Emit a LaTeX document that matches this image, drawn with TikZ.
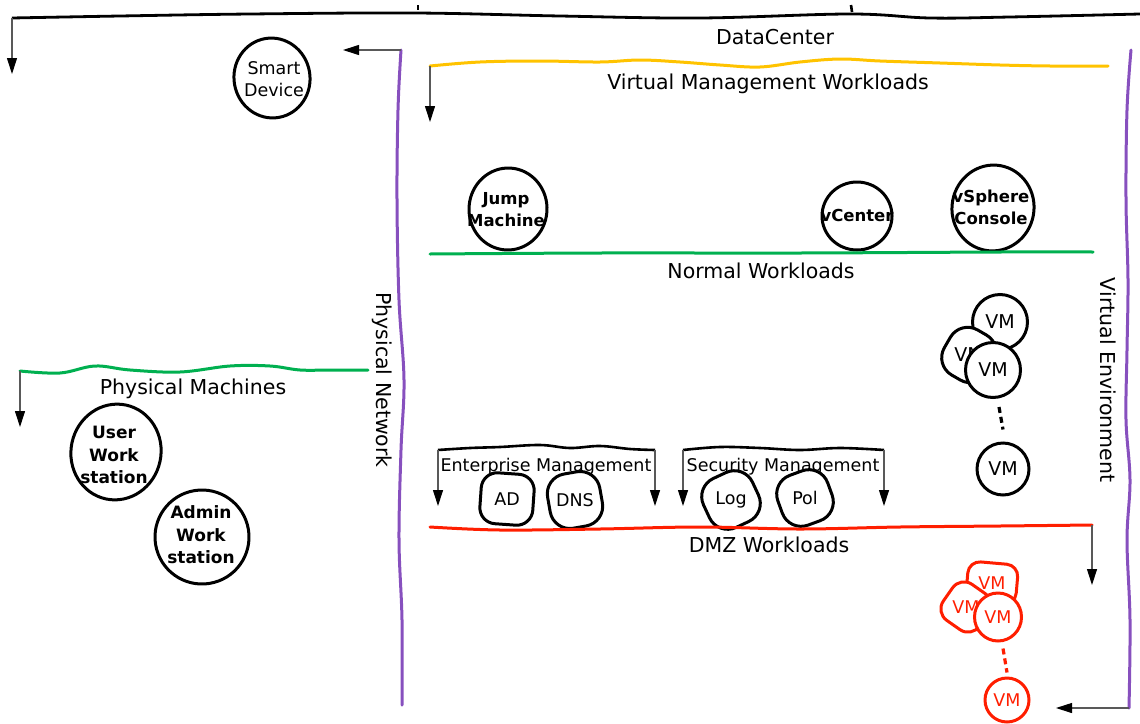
\documentclass[tikz,border=0pt]{standalone}
\usepackage{fontspec}
\setmainfont{DejaVu Sans}
\usetikzlibrary{arrows.meta,shapes.geometric}
\definecolor{dcpurple}{RGB}{135,80,190}
\definecolor{dcyellow}{RGB}{255,195,0}
\definecolor{dcgreen}{RGB}{0,176,80}
\definecolor{dcred}{RGB}{255,30,0}
\tikzset{
  sketch/.style={draw, fill=white, line width=3pt, ellipse, inner sep=0pt, align=center},
  blob/.style={draw, fill=white, line width=3pt, rectangle, rounded corners=16pt, inner sep=0pt, align=center},
  lbl/.style={font=\fontsize{20.5}{24}\selectfont, inner sep=0pt},
  sublbl/.style={font=\fontsize{17.5}{21}\selectfont, inner sep=0pt},
  ntxt/.style={font=\fontsize{17.5}{22}\selectfont, align=center, inner sep=0pt},
  btxt/.style={font=\bfseries\fontsize{16.5}{22}\selectfont, align=center, inner sep=0pt},
  vmtxt/.style={font=\fontsize{19}{22}\selectfont},
  flow/.style={draw=black!65, line width=1.1pt, -{Triangle[length=16pt,width=10pt,color=black,fill=black]}},
  wave/.style={line width=3pt, line cap=round},
}
\begin{document}
\begin{tikzpicture}[x=1pt,y=-1pt]
\useasboundingbox (0,0) rectangle (1140,723);

% ---------- top black line (DataCenter)
\coordinate (top0) at (12,18);
\draw[line width=2.8pt] plot[smooth, tension=0.6] coordinates {(12,18) (120,16) (250,14) (415,13) (560,16) (700,18) (850,14) (930,18) (1010,17) (1140,14)};
\draw[line width=2.6pt] (418,5) -- (418,10);
\draw[line width=2.6pt] (851,5) -- (852,12);
\coordinate (top0e) at (12,74);
\draw[flow] (top0) -- (top0e);
\node[lbl] (dc) at (775,37) {DataCenter};

% ---------- physical network (left purple)
\coordinate (pn0) at (401,50);
\draw[wave, dcpurple] plot[smooth, tension=0.6] coordinates {(401,50) (398,110) (397,200) (399,300) (404,380) (401,450) (399,540) (402,620) (402,705)};
\coordinate (pnarr) at (343,50);
\draw[flow] (pn0) -- (pnarr);
\node[lbl, rotate=-90] (pnl) at (382,380) {Physical Network};

% ---------- virtual environment (right purple)
\coordinate (ve1) at (1129,708);
\draw[wave, dcpurple] plot[smooth, tension=0.6] coordinates {(1131,50) (1127,110) (1126,200) (1128,280) (1127,350) (1126,420) (1130,480) (1127,540) (1130,620) (1129,708)};
\coordinate (vearr) at (1056,708);
\draw[flow] (ve1) -- (vearr);
\node[lbl, rotate=-90] (vel) at (1108,380) {Virtual Environment};

% ---------- virtual management workloads (yellow)
\coordinate (vm0) at (430,66);
\draw[wave, dcyellow] plot[smooth, tension=0.6] coordinates {(430,66) (480,62) (540,61) (600,62) (640,60) (680,62) (720,65) (760,67) (800,62) (840,59) (880,61) (940,63) (1000,65) (1050,66) (1108,66)};
\coordinate (vm0e) at (430,122);
\draw[flow] (vm0) -- (vm0e);
\node[lbl] (vmwl) at (768,84) {Virtual Management Workloads};

\node[sketch, minimum width=78, minimum height=82, rotate=-4] (jump) at (508,209) {};
\node[btxt] (jumpt) at (506,210) {Jump\\Machine};
\node[sketch, minimum width=70, minimum height=68] (vcenter) at (857,216) {};
\node[btxt] (vcentert) at (857,215) {vCenter};
\node[sketch, minimum width=82, minimum height=86, rotate=-10] (vsphere) at (993,208) {};
\node[btxt] (vspheret) at (991,207) {vSphere\\Console};

% ---------- normal workloads (green)
\draw[wave, dcgreen] plot[smooth, tension=0.6] coordinates {(430,254) (600,253) (800,253) (1000,252) (1093,252)};
\node[lbl] (nwl) at (761,271) {Normal Workloads};

\node[sketch, vmtxt, minimum width=55, minimum height=55] (vma) at (1000,322) {VM};
\node[blob, vmtxt, rounded corners=20pt, minimum width=50, minimum height=52, rotate=-30] (vmb) at (969,355) {\rotatebox{30}{VM}};
\node[sketch, vmtxt, minimum width=55, minimum height=55] (vmc) at (993,370) {VM};
\node[sketch, vmtxt, minimum width=52, minimum height=52] (vmd) at (1003,469) {VM};
\draw[line width=3.2pt, dash pattern=on 6pt off 4pt] ([xshift=6pt,yshift=-8pt]vmc.south) -- ([yshift=12pt]vmd.north);

% ---------- enterprise / security management
\coordinate (em0) at (438,450);
\coordinate (em1) at (655,450);
\draw[line width=2.6pt] plot[smooth, tension=0.6] coordinates {(438,450) (470,448) (500,447) (540,445) (570,448) (600,446) (630,449) (655,450)};
\coordinate (em0e) at (438,506);
\coordinate (em1e) at (655,506);
\draw[flow] (em0) -- (em0e);
\draw[flow] (em1) -- (em1e);
\node[sublbl] (eml) at (546,467) {Enterprise Management};

\coordinate (sm0) at (683,450);
\coordinate (sm1) at (884,450);
\draw[line width=2.6pt] plot[smooth, tension=0.6] coordinates {(683,450) (720,447) (760,448) (800,450) (840,448) (884,450)};
\coordinate (sm0e) at (683,506);
\coordinate (sm1e) at (884,506);
\draw[flow] (sm0) -- (sm0e);
\draw[flow] (sm1) -- (sm1e);
\node[sublbl] (sml) at (783,467) {Security Management};

\node[blob, ntxt, minimum width=53, minimum height=51, rotate=-4] (ad) at (507,499) {\rotatebox{4}{AD}};
\node[blob, ntxt, rounded corners=20pt, minimum width=53, minimum height=55, rotate=10] (dns) at (575,500) {\rotatebox{-10}{DNS}};
\node[blob, ntxt, rounded corners=20pt, minimum width=54, minimum height=54, rotate=25] (log) at (731,500) {\rotatebox{-25}{Log}};
\node[blob, ntxt, rounded corners=20pt, minimum width=53, minimum height=53, rotate=20] (pol) at (805,498) {\rotatebox{-20}{Pol}};

% ---------- DMZ workloads (red)
\coordinate (dmz1) at (1092,525);
\draw[wave, dcred] plot[smooth, tension=0.6] coordinates {(430,527) (500,530) (600,529) (700,527) (800,529) (900,527) (1000,526) (1092,525)};
\coordinate (dmz1e) at (1092,585);
\draw[flow] (dmz1) -- (dmz1e);
\node[lbl] (dmzl) at (769,545) {DMZ Workloads};

\begin{scope}[every node/.append style={draw=dcred, text=dcred, font=\fontsize{17.5}{20}\selectfont}]
\node[blob, rounded corners=12pt, minimum width=50, minimum height=40, rotate=-5] (rva) at (992,583) {\rotatebox{5}{VM}};
\node[blob, rounded corners=14pt, minimum width=44, minimum height=44, rotate=-35] (rvb) at (966,607) {\rotatebox{35}{VM}};
\node[sketch, minimum width=47, minimum height=48] (rvc) at (998,617) {VM};
\node[sketch, minimum width=44, minimum height=44] (rvd) at (1007,700) {VM};
\end{scope}
\draw[dcred, line width=3.2pt, dash pattern=on 6pt off 4pt] ([xshift=5pt,yshift=-6pt]rvc.south) -- ([yshift=4pt]rvd.north);

% ---------- physical machines (green, left)
\coordinate (pm0) at (20,371);
\draw[wave, dcgreen] plot[smooth, tension=0.6] coordinates {(20,371) (60,373) (95,366) (130,370) (180,372) (230,366) (270,366) (300,370) (330,370) (368,370)};
\coordinate (pm0e) at (20,427);
\draw[flow] (pm0) -- (pm0e);
\node[lbl] (pml) at (193,389) {Physical Machines};

\node[sketch, minimum width=76, minimum height=80, rotate=10] (smart) at (272,78) {};
\node[ntxt] (smartt) at (274,79) {Smart\\Device};
\node[sketch, minimum width=90, minimum height=96, rotate=-12] (user) at (116,452) {};
\node[btxt, font=\bfseries\fontsize{17}{22.5}\selectfont] (usert) at (114,455) {User\\Work\\station};
\node[sketch, minimum width=94, minimum height=94, rotate=15] (admin) at (202,537) {};
\node[btxt, font=\bfseries\fontsize{17}{22.5}\selectfont] (admint) at (201,535) {Admin\\Work\\station};
\end{tikzpicture}
\end{document}
